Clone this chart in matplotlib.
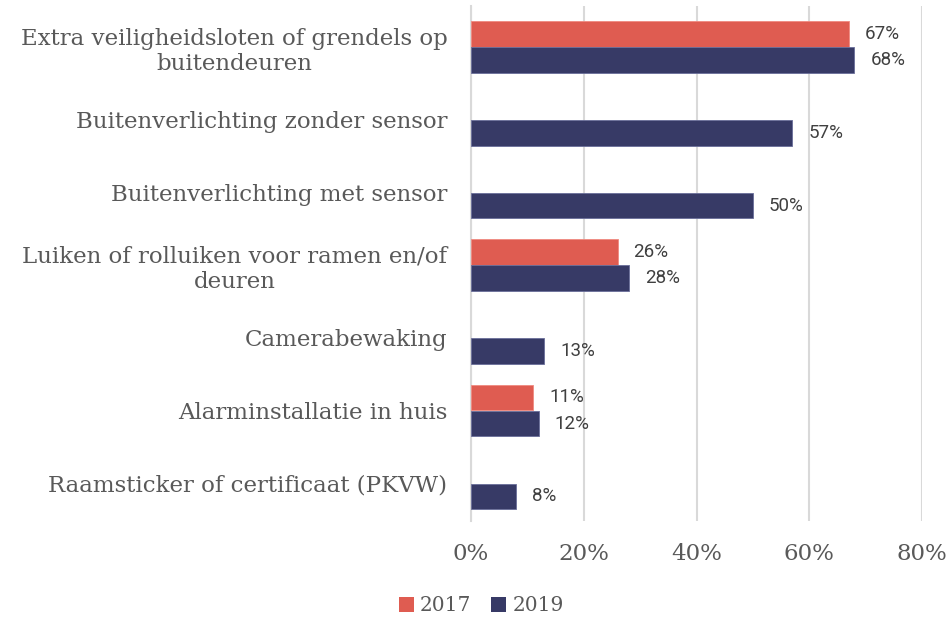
import matplotlib.pyplot as plt
import numpy as np

categories = [
    "Extra veiligheidsloten of grendels op\nbuitendeuren",
    "Buitenverlichting zonder sensor",
    "Buitenverlichting met sensor",
    "Luiken of rolluiken voor ramen en/of\ndeuren",
    "Camerabewaking",
    "Alarminstallatie in huis",
    "Raamsticker of certificaat (PKVW)",
]
vals_2017 = [67, None, None, 26, None, 11, None]
vals_2019 = [68, 57, 50, 28, 13, 12, 8]
xticks = [0, 20, 40, 60, 80]

red = "#DF5C51"
navy = "#373A66"
grid_col = "#D9D9D9"

fig = plt.figure(figsize=(9.51, 6.21), dpi=100)
ax = fig.add_axes([0.4953, 0.161, 0.4742, 0.83])

y = np.arange(len(categories))
h = 0.35
off = 0.18

for i, v in enumerate(vals_2017):
    if v is None:
        continue
    ax.barh(y[i] - off, v, height=h, color=red, edgecolor="#F08A80", linewidth=0.6, zorder=3)
    ax.annotate(f"{v}%", (v, y[i] - off), xytext=(11.5, 0), textcoords="offset points",
                va="center", ha="left", fontsize=13.5, family="Roboto", color="#404040")

for i, v in enumerate(vals_2019):
    ax.barh(y[i] + off, v, height=h, color=navy, edgecolor="#6A6E9A", linewidth=0.6, zorder=3)
    ax.annotate(f"{v}%", (v, y[i] + off), xytext=(11.5, 0), textcoords="offset points",
                va="center", ha="left", fontsize=13.5, family="Roboto", color="#404040")

# legend proxies
ax.barh([0], [0], color=red, label="2017")
ax.barh([0], [0], color=navy, label="2019")

ax.set_xlim(0, 80)
ax.set_ylim(len(categories) - 0.5 + 0.02, -0.5 - 0.07)
ax.set_xticks(xticks)
ax.set_xticklabels([f"{t}%" for t in xticks], family="DejaVu Serif", fontsize=16.5, color="#595959")
ax.set_yticks(y)
ax.set_yticklabels(categories, family="DejaVu Serif", fontsize=16.5, color="#595959",
                   multialignment="center")
ax.tick_params(axis="y", length=0, pad=17)
ax.tick_params(axis="x", length=0, pad=16)

ax.grid(axis="x", color=grid_col, linewidth=1.5, zorder=0)
for s in ["top", "right", "bottom"]:
    ax.spines[s].set_visible(False)
ax.spines["left"].set_color(grid_col)
ax.spines["left"].set_linewidth(1.5)

leg = fig.legend(loc="lower center", bbox_to_anchor=(0.506, -0.02), ncol=2, frameon=False,
                 handlelength=0.75, handleheight=0.75, handletextpad=0.3, columnspacing=1.0,
                 prop={"family": "DejaVu Serif", "size": 14.5})
for t in leg.get_texts():
    t.set_color("#595959")

fig.savefig("out.png", dpi=100)
